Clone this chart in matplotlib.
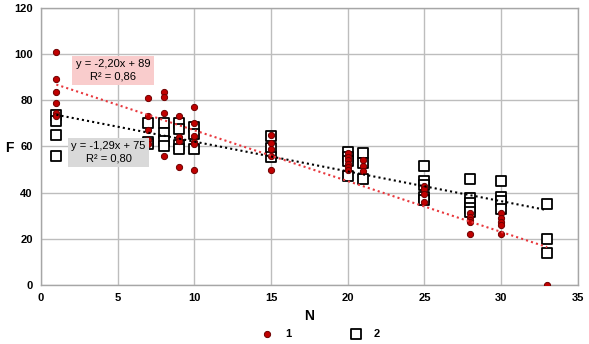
import matplotlib
matplotlib.use("Agg")
import matplotlib.pyplot as plt
import numpy as np

plt.rcParams['font.family'] = ['Liberation Sans', 'DejaVu Sans']

# Series 1 (red circles)
x1 = [1]*6 + [7]*5 + [8]*4 + [9]*4 + [10]*6 + [15]*5 + [20]*6 + [21]*3 + [25]*4 + [28]*5 + [30]*5 + [33]
y1 = [101, 89, 83.5, 79, 74.5, 73,
      81, 73, 67, 63, 61,
      83.5, 81.5, 74.5, 56,
      73, 64, 62.5, 51,
      77, 70, 64.5, 62, 61, 50,
      65, 61.5, 59, 56, 50,
      57, 55.5, 54, 52.5, 51, 50,
      54, 51.5, 49.5,
      43, 41.5, 39.5, 36,
      31, 29.5, 28, 27.5, 22,
      31, 29, 27.5, 26, 22,
      0]

# Series 2 (open squares)
x2 = [1]*4 + [7]*3 + [8]*4 + [9]*4 + [10]*3 + [15]*3 + [20]*4 + [21]*3 + [25]*5 + [28]*5 + [30]*4 + [33]*3
y2 = [73.5, 71, 65, 56,
      70, 62, 61,
      70, 66, 62.5, 60,
      70, 67.5, 60.5, 59,
      68.5, 65.5, 59,
      64.5, 59.5, 55.5,
      57.5, 55.5, 53.5, 47,
      57, 53, 46,
      51.5, 45, 43.5, 38, 37,
      46, 37.5, 35.5, 33.5, 31.5,
      45, 38, 36.5, 33,
      35, 20, 14]

# Trendline coefficients (from the chart labels)
trend1 = (-2.20, 89)
trend2 = (-1.29, 75)
trend_x = [1, 33]
label1 = "y = -2,20x + 89\nR² = 0,86"
label2 = "y = -1,29x + 75\nR² = 0,80"
series_names = ["1", "2"]

fig = plt.figure(figsize=(5.89, 3.44), dpi=100)
ax = fig.add_axes([0.0696, 0.1715, 0.9114, 0.8055])

ax.set_xlim(0, 35)
ax.set_ylim(0, 120)
ax.set_xticks(np.arange(0, 36, 5))
ax.set_yticks(np.arange(0, 121, 20))
ax.grid(True, color='#bdbdbd', linewidth=1.0)
ax.set_axisbelow(True)
for s in ax.spines.values():
    s.set_color('#a6a6a6')
    s.set_linewidth(1.0)
ax.tick_params(length=0, labelsize=8, pad=6)
for lab in ax.get_xticklabels() + ax.get_yticklabels():
    lab.set_fontweight('bold')

ax.scatter(x2, y2, marker='s', s=42, facecolor='white', edgecolor='black',
           linewidth=1.3, zorder=3, label=series_names[1])
ax.scatter(x1, y1, marker='o', s=20, facecolor='#c00000', edgecolor='#6e0000',
           linewidth=0.7, zorder=4, label=series_names[0])

tx = np.array(trend_x, dtype=float)
ax.plot(tx, trend1[0]*tx + trend1[1], linestyle=(0, (1, 1.5)), color='#e8383d', linewidth=1.5, zorder=5)
ax.plot(tx, trend2[0]*tx + trend2[1], linestyle=(0, (1, 1.5)), color='black', linewidth=1.5, zorder=5)

ax.text(4.7, 93.0, label1, ha='center', va='center', fontsize=8, linespacing=1.3,
        bbox=dict(boxstyle='square,pad=0.3', facecolor='#f9cccc', edgecolor='none'), zorder=6)
ax.text(4.4, 57.5, label2, ha='center', va='center', fontsize=8, linespacing=1.3,
        bbox=dict(boxstyle='square,pad=0.3', facecolor='#d9d9d9', edgecolor='none'), zorder=6)

ax.set_xlabel('N', fontsize=10, fontweight='bold', labelpad=4)
fig.text(9/589, 1 - 148/344, 'F', fontsize=10, fontweight='bold', ha='center', va='center')

h, l = ax.get_legend_handles_labels()
fig.legend([h[1], h[0]], [l[1], l[0]], loc='center', bbox_to_anchor=(0.54, 0.03),
           ncol=2, frameon=False, columnspacing=4.8, handletextpad=0.6,
           prop={'weight': 'bold', 'size': 8})

fig.savefig('out.png', dpi=100)
